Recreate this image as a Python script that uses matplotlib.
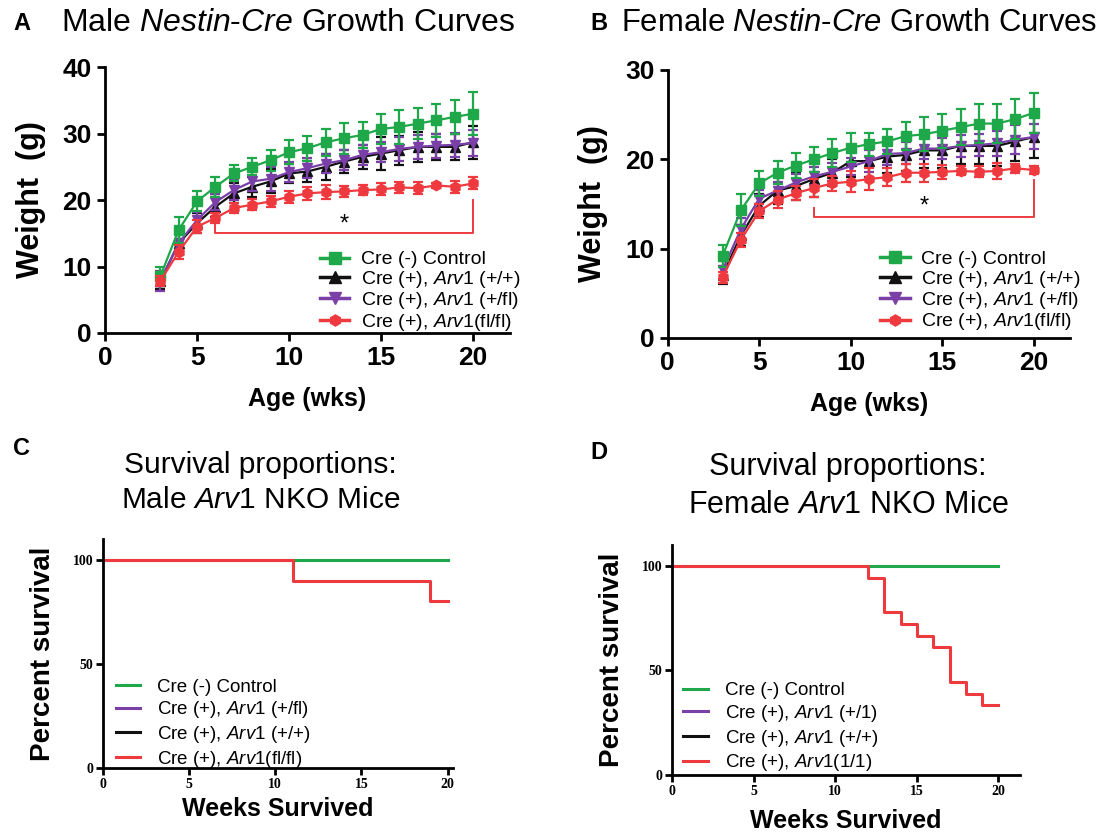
import numpy as np
import matplotlib
matplotlib.use("Agg")
import matplotlib.pyplot as plt
from matplotlib.lines import Line2D

plt.rcParams['font.family'] = ['Liberation Sans', 'DejaVu Sans']
plt.rcParams['mathtext.fontset'] = 'custom'
plt.rcParams['mathtext.it'] = 'Liberation Sans:italic'
plt.rcParams['mathtext.rm'] = 'Liberation Sans'

weeks = np.arange(3, 21)

# male growth (g)
m_ctrl = [8.5, 15.5, 19.8, 22.0, 24.0, 25.0, 26.0, 27.2, 27.8, 28.7, 29.3, 29.8, 30.7, 31.0, 31.5, 32.0, 32.5, 33.0]
m_ctrl_err = [1.5, 2.0, 1.5, 1.5, 1.2, 1.3, 1.6, 1.8, 1.9, 2.0, 2.3, 2.0, 2.2, 2.5, 2.3, 2.5, 2.5, 3.2]
m_wt = [7.8, 13.5, 16.5, 19.0, 21.0, 22.0, 22.8, 24.0, 24.3, 25.0, 25.8, 26.5, 27.0, 27.5, 28.0, 28.0, 28.0, 28.7]
m_wt_err = [1.2, 1.5, 1.5, 1.5, 1.5, 1.5, 1.8, 1.5, 1.6, 2.0, 1.8, 1.8, 2.5, 2.2, 2.3, 2.0, 2.0, 2.5]
m_het = [7.8, 13.5, 17.0, 19.7, 21.5, 22.8, 23.2, 24.2, 24.8, 25.5, 26.0, 26.8, 27.2, 27.7, 28.0, 28.2, 28.3, 28.6]
m_het_err = [1.5, 1.5, 1.2, 1.2, 1.5, 1.5, 1.8, 1.5, 1.5, 1.5, 1.5, 1.5, 1.5, 1.8, 1.8, 1.8, 1.8, 2.0]
m_ko = [7.8, 12.2, 16.0, 17.3, 18.8, 19.3, 19.8, 20.5, 21.0, 21.2, 21.3, 21.5, 21.6, 21.9, 21.8, 22.2, 22.0, 22.5]
m_ko_err = [0.8, 1.0, 1.0, 0.8, 0.8, 0.8, 0.8, 0.9, 1.0, 1.0, 0.8, 0.8, 0.9, 0.8, 0.9, 0.4, 0.9, 0.9]

# female growth (g)
f_ctrl = [9.2, 14.3, 17.3, 18.5, 19.3, 20.0, 20.7, 21.3, 21.7, 22.0, 22.6, 22.8, 23.2, 23.6, 24.0, 24.0, 24.5, 25.2]
f_ctrl_err = [1.2, 1.8, 1.4, 1.3, 1.4, 1.4, 1.6, 1.6, 1.3, 1.4, 1.6, 1.9, 1.9, 2.0, 2.2, 2.2, 2.2, 2.2]
f_wt = [7.0, 11.5, 14.8, 16.5, 17.0, 17.8, 18.5, 19.8, 19.8, 20.3, 20.5, 21.0, 21.0, 21.5, 21.5, 21.5, 22.0, 22.5]
f_wt_err = [1.0, 1.2, 1.3, 1.5, 1.5, 2.0, 1.5, 1.8, 1.8, 1.8, 1.8, 2.0, 2.0, 2.0, 2.0, 2.2, 2.2, 2.4]
f_het = [7.6, 12.2, 15.6, 16.5, 17.4, 18.1, 18.6, 19.2, 19.8, 20.6, 20.7, 21.2, 21.2, 21.5, 21.6, 21.8, 22.2, 22.5]
f_het_err = [1.0, 1.2, 1.0, 1.0, 1.0, 1.0, 1.0, 1.0, 1.2, 1.2, 1.2, 1.2, 1.2, 1.2, 1.2, 1.4, 1.6, 1.4]
f_ko = [6.8, 11.0, 14.2, 15.5, 16.2, 16.8, 17.3, 17.5, 17.8, 18.0, 18.5, 18.5, 18.6, 18.7, 18.6, 18.7, 19.0, 18.8]
f_ko_err = [0.6, 0.8, 0.8, 0.9, 0.8, 1.0, 0.8, 1.2, 1.2, 1.0, 1.0, 1.0, 0.8, 0.5, 0.6, 0.9, 0.5, 0.4]

# survival (percent) step data
surv_ctrl_t = [0, 20]
surv_ctrl = [100, 100]
m_surv_t = [0, 11, 19, 20]
m_surv = [100, 90, 80, 80]
f_surv_t = [0, 12, 13, 14, 15, 16, 17, 18, 19, 20]
f_surv = [100, 94.4, 77.8, 72.2, 66.7, 61.1, 44.4, 38.9, 33.3, 33.3]

GREEN = '#1fa84a'
BLACK = '#111111'
PURPLE = '#7b3fa8'
RED = '#ee3a3f'

growth_labels = ['Cre (-) Control',
                 r'Cre (+), $\it{Arv1}$ (+/+)',
                 r'Cre (+), $\it{Arv1}$ (+/fl)',
                 r'Cre (+), $\it{Arv1}$(fl/fl)']

fig = plt.figure(figsize=(11, 8.36), dpi=100)


def growth_panel(rect, series, ymax, yticks, bracket, star, leg_anchor):
    ax = fig.add_axes(rect)
    styles = [(GREEN, 's', 3), (BLACK, '^', 1), (PURPLE, 'v', 2), (RED, 'h', 4)]
    handles = []
    for (vals, errs), (c, m, z), lab in zip(series, styles, growth_labels):
        ax.errorbar(weeks, vals, yerr=errs, color=c, marker=m, markersize=7.5,
                    lw=1.6, elinewidth=1.6, capsize=3.5, capthick=1.6, zorder=z)
        handles.append(Line2D([], [], color=c, marker=m, markersize=8, lw=2.5, label=lab))
    x0, x1, yb, y0, y1 = bracket
    ax.plot([x0, x0, x1, x1], [y0, yb, yb, y1], color=RED, lw=1.4)
    ax.text(star[0], star[1], '*', ha='center', va='center', fontsize=17)
    ax.set_xlim(0, 22)
    ax.set_ylim(0, ymax)
    ax.set_xticks([0, 5, 10, 15, 20])
    ax.set_yticks(yticks)
    for s in ['top', 'right']:
        ax.spines[s].set_visible(False)
    for s in ['left', 'bottom']:
        ax.spines[s].set_linewidth(2)
    ax.tick_params(width=2, length=6, labelsize=19)
    for t in ax.get_xticklabels() + ax.get_yticklabels():
        t.set_fontweight('bold')
    ax.set_xlabel('Age (wks)', fontsize=18, fontweight='bold', labelpad=12)
    ax.set_ylabel('Weight  (g)', fontsize=22, fontweight='bold', labelpad=12)
    ax.legend(handles=handles, loc='lower right', bbox_to_anchor=leg_anchor, frameon=False,
              fontsize=14, handlelength=1.5, labelspacing=0.02, handletextpad=0.6,
              borderpad=0.2)
    return ax


growth_panel([0.0955, 0.6017, 0.368, 0.318],
             [(m_ctrl, m_ctrl_err), (m_wt, m_wt_err), (m_het, m_het_err), (m_ko, m_ko_err)],
             40, [0, 10, 20, 30, 40], (6, 20, 15, 16.5, 20), (13, 16.3), (1.06, -0.05))
growth_panel([0.607, 0.5957, 0.366, 0.3206],
             [(f_ctrl, f_ctrl_err), (f_wt, f_wt_err), (f_het, f_het_err), (f_ko, f_ko_err)],
             30, [0, 10, 20, 30], (8, 20, 13.5, 14.5, 17.7), (14, 14.7), (1.06, -0.03))


def surv_panel(rect, xmax, red_t, red_s, labels, leg_anchor, xlab_y):
    ax = fig.add_axes(rect)
    ax.step(surv_ctrl_t, surv_ctrl, where='post', color=PURPLE, lw=2)
    ax.step(surv_ctrl_t, surv_ctrl, where='post', color=BLACK, lw=2)
    ax.step(surv_ctrl_t, surv_ctrl, where='post', color=GREEN, lw=2.2)
    ax.step(red_t, red_s, where='post', color=RED, lw=2.2)
    ax.set_xlim(0, xmax)
    ax.set_ylim(0, 110)
    ax.set_xticks([0, 5, 10, 15, 20])
    ax.set_yticks([0, 50, 100])
    for s in ['top', 'right']:
        ax.spines[s].set_visible(False)
    for s in ['left', 'bottom']:
        ax.spines[s].set_linewidth(2)
    ax.tick_params(width=2, length=5, labelsize=10, pad=2)
    for t in ax.get_xticklabels() + ax.get_yticklabels():
        t.set_fontweight('bold')
        t.set_family('Liberation Serif')
    ax.set_xlabel('Weeks Survived', fontsize=18, fontweight='bold', va='center')
    ax.xaxis.set_label_coords(0.5, xlab_y)
    ax.set_ylabel('Percent survival', fontsize=20, fontweight='bold', labelpad=12)
    handles = [Line2D([], [], color=c, lw=2.2) for c in [GREEN, PURPLE, BLACK, RED]]
    ax.legend(handles, labels, loc='lower left', bbox_to_anchor=leg_anchor, frameon=False,
              fontsize=13.5, handlelength=1.3, labelspacing=0.2, handletextpad=0.9,
              borderpad=0.2)
    return ax


surv_panel([0.0936, 0.0813, 0.318, 0.274], 20.3, m_surv_t, m_surv,
           ['Cre (-) Control', r'Cre (+), $\it{Arv1}$ (+/fl)',
            r'Cre (+), $\it{Arv1}$ (+/+)', r'Cre (+), $\it{Arv1}$(fl/fl)'],
           (0.0, -0.065), -0.18)
surv_panel([0.611, 0.073, 0.316, 0.275], 21.3, f_surv_t, f_surv,
           ['Cre (-) Control', r'Cre (+), $\it{Arv1}$ (+/1)',
            r'Cre (+), $\it{Arv1}$ (+/+)', r'Cre (+), $\it{Arv1}$(1/1)'],
           (-0.005, -0.05), -0.2)

# titles and panel letters
fig.text(0.012, 0.972, 'A', fontsize=17, fontweight='bold', va='center')
fig.text(0.537, 0.972, 'B', fontsize=17, fontweight='bold', va='center')
fig.text(0.012, 0.464, 'C', fontsize=17, fontweight='bold', va='center')
fig.text(0.537, 0.459, 'D', fontsize=17, fontweight='bold', va='center')
fig.text(0.262, 0.972, r'Male $\it{Nestin}$-$\it{Cre}$ Growth Curves', fontsize=23, ha='center', va='center')
fig.text(0.781, 0.972, r'Female $\it{Nestin}$-$\it{Cre}$ Growth Curves', fontsize=22.3, ha='center', va='center')
fig.text(0.237, 0.423, 'Survival proportions:\n' + r'Male $\it{Arv1}$ NKO Mice', fontsize=21.5,
         ha='center', va='center', linespacing=1.35)
fig.text(0.771, 0.419, 'Survival proportions:\n' + r'Female $\it{Arv1}$ NKO Mice', fontsize=22,
         ha='center', va='center', linespacing=1.35)

fig.savefig('out.png', dpi=100)
